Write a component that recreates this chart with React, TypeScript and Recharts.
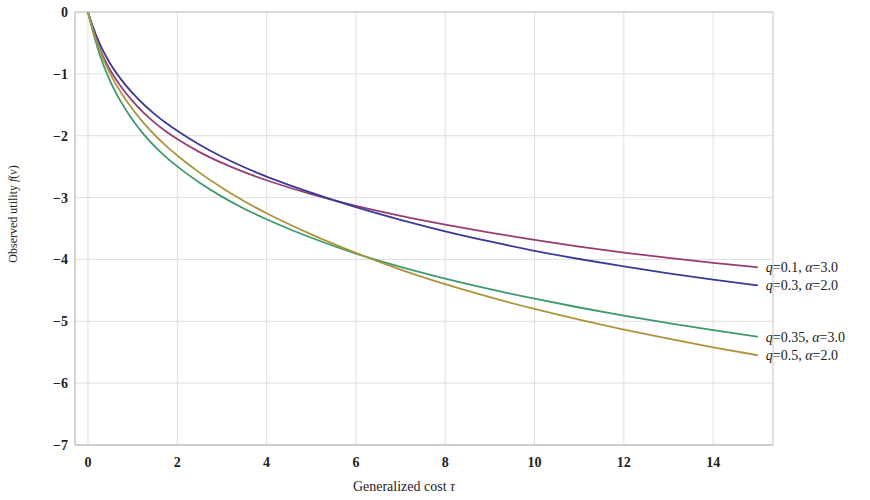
import React from 'react';
import { LineChart, Line, XAxis, YAxis, CartesianGrid, ReferenceArea } from 'recharts';

const costs = [0, 0.1, 0.25, 0.5, 0.75, 1, 1.25, 1.5, 1.75, 2, 2.5, 3, 3.5, 4, 5, 6, 7, 8, 9, 10, 11, 12, 13, 14, 15];
const q01a30 = [0, -0.25, -0.565, -0.94, -1.215, -1.44, -1.63, -1.7925, -1.9325, -2.055, -2.265, -2.44, -2.59, -2.72, -2.945, -3.135, -3.295, -3.437, -3.566, -3.684, -3.792, -3.889, -3.976, -4.055, -4.128];
const q03a20 = [0, -0.215, -0.4925, -0.8375, -1.0975, -1.3125, -1.495, -1.655, -1.795, -1.92, -2.145, -2.34, -2.51, -2.66, -2.92, -3.155, -3.36, -3.545, -3.71, -3.86, -3.993, -4.113, -4.224, -4.326, -4.42];
const q035a30 = [0, -0.2825, -0.6575, -1.12, -1.465, -1.745, -1.9775, -2.175, -2.345, -2.495, -2.76, -2.985, -3.18, -3.35, -3.65, -3.905, -4.12, -4.31, -4.48, -4.635, -4.777, -4.908, -5.03, -5.144, -5.251];
const q05a20 = [0, -0.2575, -0.5875, -1.0, -1.3125, -1.5725, -1.7975, -1.9925, -2.165, -2.319, -2.5965, -2.8415, -3.059, -3.254, -3.594, -3.894, -4.164, -4.40, -4.61, -4.80, -4.974, -5.134, -5.282, -5.42, -5.549];

const xTicks = [0, 2, 4, 6, 8, 10, 12, 14];
const yTicks = [-7, -6, -5, -4, -3, -2, -1, 0];
const X_MIN = -0.29;
const X_MAX = 15.34;

const seriesNames = [
  { key: 'a', q: '0.1', a: '3.0', color: '#953d70' },
  { key: 'b', q: '0.3', a: '2.0', color: '#3a3a94' },
  { key: 'c', q: '0.35', a: '3.0', color: '#3e9a6c' },
  { key: 'd', q: '0.5', a: '2.0', color: '#ad943f' },
];

const data = costs.map((t, i) => ({ t, a: q01a30[i], b: q03a20[i], c: q035a30[i], d: q05a20[i] }));
const LAST = costs.length - 1;

const FONT = '"Liberation Serif", "DejaVu Serif", serif';

const fmt = (v: number) => (v < 0 ? '\u2212' + Math.abs(v) : String(v));

const makeLabel = (q: string, a: string) => (props: any) => {
  if (props.index !== LAST) return null;
  return (
    <text x={props.x + 8} y={props.y} dy={5} style={{ fontFamily: FONT }} fontSize={14} fill="#222">
      <tspan fontStyle="italic">q</tspan>
      <tspan>={q}, </tspan>
      <tspan fontStyle="italic">α</tspan>
      <tspan>=</tspan>
      <tspan>{a}</tspan>
    </text>
  );
};

const tickStyle = { fontFamily: FONT, fontSize: 14, fontWeight: 'bold', fill: '#222', style: { fontFamily: FONT } } as any;

export default function App() {
  return (
    <div style={{ position: 'absolute', left: 0, top: 0, width: 870, height: 500, background: '#fff' }}>
      <LineChart
        width={870}
        height={500}
        data={data}
        margin={{ top: 12, right: 97, bottom: 25, left: 0 }}
      >
        <CartesianGrid stroke="#dedede" strokeWidth={1} verticalValues={xTicks} horizontalValues={yTicks} />
        <XAxis
          dataKey="t"
          type="number"
          domain={[X_MIN, X_MAX]}
          ticks={xTicks}
          allowDataOverflow
          height={30}
          stroke="#c4c4c4"
          tickLine={false}
          tickSize={6}
          tickMargin={6}
          tickFormatter={fmt}
          tick={tickStyle}
        />
        <YAxis
          type="number"
          domain={[-7, 0]}
          ticks={yTicks}
          allowDataOverflow
          width={75}
          stroke="#c4c4c4"
          tickLine={false}
          tickSize={5}
          tickMargin={2}
          tickFormatter={fmt}
          tick={tickStyle}
        />
        <ReferenceArea x1={X_MIN} x2={X_MAX} y1={-7} y2={0} fill="none" fillOpacity={0} stroke="#c4c4c4" strokeWidth={1} ifOverflow="visible" />
        {seriesNames.map((s) => (
          <Line
            key={s.key}
            dataKey={s.key}
            type="monotone"
            stroke={s.color}
            strokeWidth={1.8}
            dot={false}
            activeDot={false}
            isAnimationActive={false}
            label={makeLabel(s.q, s.a)}
          />
        ))}
      </LineChart>
      <div
        style={{
          position: 'absolute',
          left: 404,
          top: 479,
          transform: 'translateX(-50%)',
          fontFamily: FONT,
          fontSize: 14,
          color: '#222',
          whiteSpace: 'nowrap',
        }}
      >
        Generalized cost <i>τ</i>
      </div>
      <div
        style={{
          position: 'absolute',
          left: 13,
          top: 214,
          transform: 'translate(-50%, -50%) rotate(-90deg)',
          fontFamily: FONT,
          fontSize: 12,
          color: '#222',
          whiteSpace: 'nowrap',
        }}
      >
        Observed utility <i>f</i>(<i>v</i>)
      </div>
    </div>
  );
}
